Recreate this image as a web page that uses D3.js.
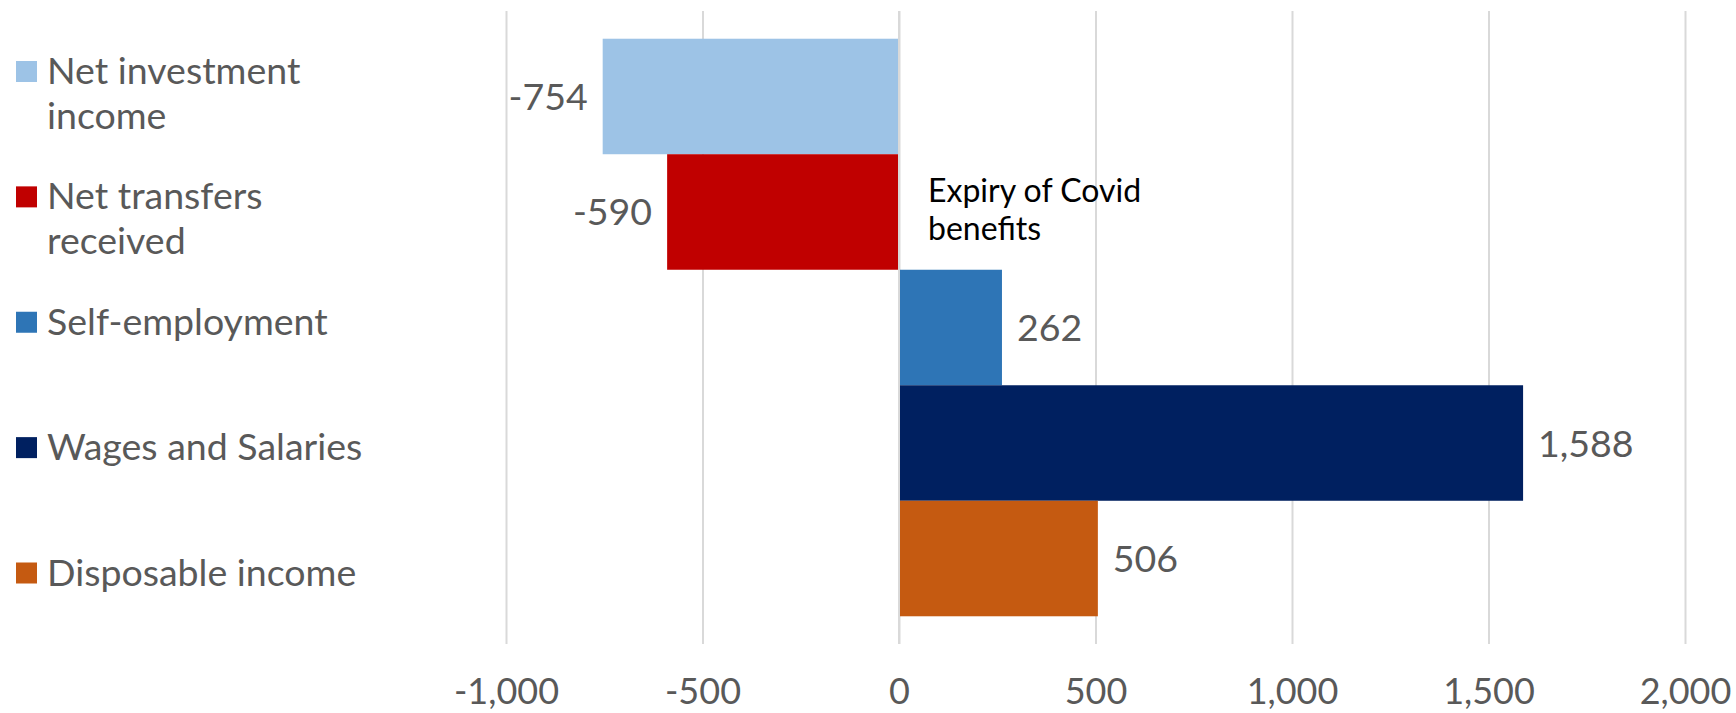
<!DOCTYPE html>
<html>
<head>
<meta charset="utf-8">
<title>Contributions to change in disposable income</title>
<script src="https://cdn.jsdelivr.net/npm/d3@7"></script>
<style>
  body { margin: 0; background: #fff; }
  svg text { font-family: Lato, "Open Sans", sans-serif; }
</style>
</head>
<body>
<script>
// data
var series = ["Net investment income", "Net transfers received", "Self-employment",
              "Wages and Salaries", "Disposable income"];
var values = [-754, -590, 262, 1588, 506];
var colors = ["#9DC3E6", "#C00000", "#2E75B6", "#002060", "#C55A11"];
var xTicks = [-1000, -500, 0, 500, 1000, 1500, 2000];
var note = ["Expiry of Covid", "benefits"];

var width = 1736, height = 713,
    plotTop = 11, plotBottom = 644,
    plotLeft = 506, plotRight = 1685;

var fmt = d3.formatLocale({decimal: ".", thousands: ",", grouping: [3],
                           currency: ["", ""], minus: "-"}).format(",");

var svg = d3.select("body").append("svg")
    .attr("width", width)
    .attr("height", height);

var x = d3.scaleLinear().domain([-1000, 2000]).range([plotLeft, plotRight]);
var y = d3.scaleBand().domain(series).range([plotTop, plotBottom])
    .paddingInner(0).paddingOuter(0.24);

// gridlines
var grid = svg.append("g").attr("class", "grid")
    .attr("transform", "translate(0," + plotBottom + ")")
    .call(d3.axisBottom(x).tickValues(xTicks).tickSize(-(plotBottom - plotTop)).tickFormat(""));
grid.select(".domain").remove();
grid.selectAll("line").attr("stroke", "#d9d9d9").attr("stroke-width", 2);

// bars
svg.append("g").selectAll("rect")
    .data(series)
    .enter().append("rect")
    .attr("x", function(d, i) { return x(Math.min(0, values[i])); })
    .attr("y", function(d) { return y(d); })
    .attr("width", function(d, i) { return Math.abs(x(values[i]) - x(0)); })
    .attr("height", y.bandwidth())
    .attr("fill", function(d, i) { return colors[i]; });

// zero line over the bars
svg.append("line")
    .attr("x1", x(0)).attr("x2", x(0))
    .attr("y1", plotTop).attr("y2", plotBottom)
    .attr("stroke", "#d9d9d9").attr("stroke-width", 2);

// value labels
svg.append("g").selectAll("text")
    .data(series)
    .enter().append("text")
    .attr("x", function(d, i) { return values[i] < 0 ? x(values[i]) - 15 : x(values[i]) + 15; })
    .attr("y", function(d) { return y(d) + y.bandwidth() / 2; })
    .attr("dy", "0.36em")
    .attr("text-anchor", function(d, i) { return values[i] < 0 ? "end" : "start"; })
    .attr("font-size", 37.5)
    .attr("fill", "#595959")
    .text(function(d, i) { return fmt(values[i]); });

// x axis labels
var xAxis = svg.append("g")
    .attr("transform", "translate(0," + plotBottom + ")")
    .call(d3.axisBottom(x).tickValues(xTicks).tickSize(0).tickPadding(0).tickFormat(fmt));
xAxis.select(".domain").remove();
xAxis.selectAll("text")
    .attr("y", 60).attr("dy", 0)
    .attr("font-size", 36)
    .attr("fill", "#595959");
xAxis.attr("font-family", null);

// annotation
svg.append("text")
    .attr("x", 928).attr("y", 202)
    .attr("font-size", 32)
    .attr("fill", "#000")
    .selectAll("tspan")
    .data(note)
    .enter().append("tspan")
    .attr("x", 928)
    .attr("dy", function(d, i) { return i ? 38 : 0; })
    .text(function(d) { return d; });

// legend
var legendY = d3.scalePoint().domain(series).range([71.5, 573]);
var legend = svg.append("g").selectAll("g")
    .data(series)
    .enter().append("g")
    .attr("transform", function(d) { return "translate(16," + legendY(d) + ")"; });

legend.append("rect")
    .attr("x", 0).attr("y", -10.5)
    .attr("width", 21).attr("height", 21)
    .attr("fill", function(d, i) { return colors[i]; });

legend.append("text")
    .attr("x", 31).attr("y", 12.5)
    .attr("font-size", 37.5)
    .attr("fill", "#595959")
    .each(function(d) {
        var t = d3.select(this), words = d.split(" "), line = [],
            tspan = t.append("tspan").attr("x", 31).attr("dy", 0);
        words.forEach(function(w) {
            line.push(w);
            tspan.text(line.join(" "));
            if (tspan.node().getComputedTextLength() > 340 && line.length > 1) {
                line.pop();
                tspan.text(line.join(" "));
                line = [w];
                tspan = t.append("tspan").attr("x", 31).attr("dy", 45).text(w);
            }
        });
    });
</script>
</body>
</html>
